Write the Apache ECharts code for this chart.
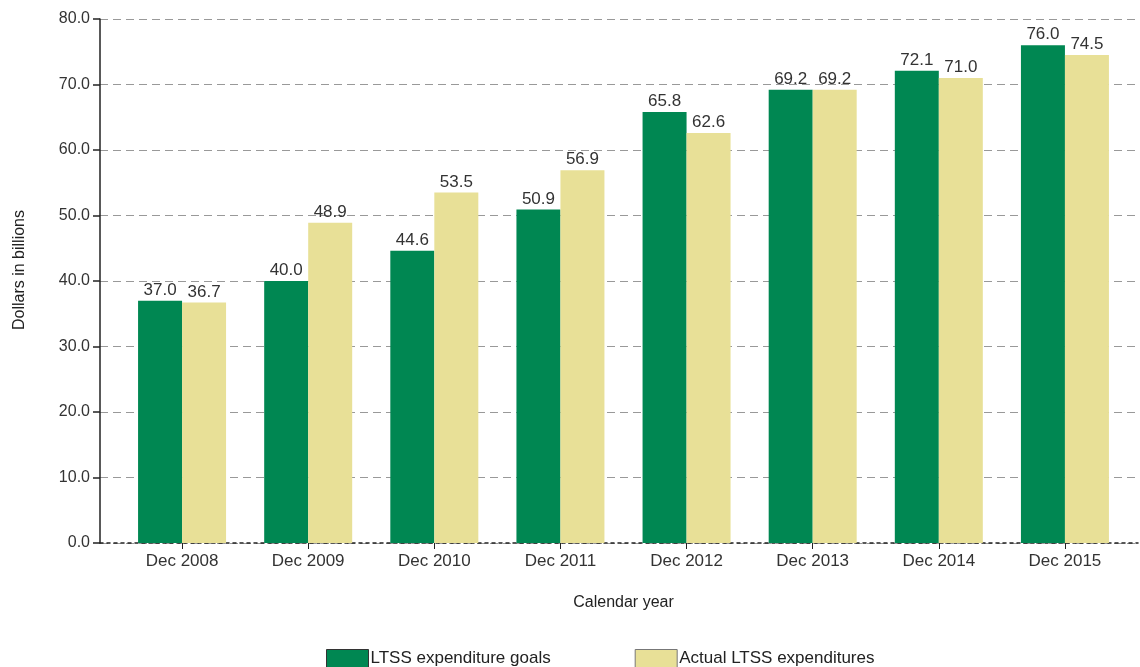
<!DOCTYPE html>
<html>
<head>
<meta charset="utf-8">
<script src="https://cdn.jsdelivr.net/npm/echarts@6/dist/echarts.min.js"></script>
<style>
html, body { margin: 0; padding: 0; background: #fff; }
#chart { width: 1140px; height: 667px; }
</style>
</head>
<body>
<div id="chart"></div>
<script>
var years = ['Dec 2008', 'Dec 2009', 'Dec 2010', 'Dec 2011', 'Dec 2012', 'Dec 2013', 'Dec 2014', 'Dec 2015'];
var goals = [37.0, 40.0, 44.6, 50.9, 65.8, 69.2, 72.1, 76.0];
var actual = [36.7, 48.9, 53.5, 56.9, 62.6, 69.2, 71.0, 74.5];

var myChart = echarts.init(document.getElementById('chart'));

var labelStyle = {
	show: true,
	position: 'top',
	distance: 2,
	color: '#333',
	fontSize: 17,
	formatter: function(p){ return p.value.toFixed(1); }
};

// grid 0 : bars ; grid 1 : frame (y axis, gridlines, dotted base line)
var option = {
	animation: false,
	textStyle: { fontFamily: 'Liberation Sans' },
	grid: [
		{ left: 119, right: 12, top: 19, bottom: 124 },
		{ left: 100, right: 2, top: 19, bottom: 124 }
	],
	legend: {
		bottom: -6,
		left: 321,
		itemGap: 84,
		itemWidth: 42,
		itemHeight: 18,
		icon: 'rect',
		textStyle: { color: '#222', fontSize: 17, padding: [0, 0, 0, -3] },
		data: [
			{ name: 'LTSS expenditure goals', itemStyle: { borderColor: '#333', borderWidth: 1 } },
			{ name: 'Actual LTSS expenditures', itemStyle: { borderColor: '#777', borderWidth: 1 } }
		]
	},
	xAxis: [
		{
			gridIndex: 0,
			type: 'category',
			data: years,
			name: 'Calendar year',
			nameLocation: 'middle',
			nameGap: 52,
			nameTextStyle: { color: '#222', fontSize: 16 },
			axisLine: { show: false },
			axisTick: { show: true, alignWithLabel: true, length: 6, lineStyle: { color: '#222' } },
			axisLabel: { color: '#333', fontSize: 17, margin: 10 }
		},
		{
			gridIndex: 1,
			type: 'category',
			data: years,
			axisLine: { show: true, lineStyle: { color: '#222', type: [3, 4], width: 1.5 } },
			axisTick: { show: false },
			axisLabel: { show: false }
		}
	],
	yAxis: [
		{
			gridIndex: 0,
			type: 'value',
			min: 0,
			max: 80,
			interval: 10,
			show: false
		},
		{
			gridIndex: 1,
			type: 'value',
			min: 0,
			max: 80,
			interval: 10,
			name: 'Dollars in billions',
			nameLocation: 'middle',
			nameGap: 72,
			nameTextStyle: { color: '#222', fontSize: 16, padding: [0, 0, 0, 22] },
			axisLine: { show: true, lineStyle: { color: '#222', width: 1.5 } },
			axisTick: { show: true, length: 7, lineStyle: { color: '#222', width: 1.5 } },
			axisLabel: {
				color: '#333',
				fontSize: 16,
				margin: 10,
				formatter: function(v){ return v.toFixed(1); }
			},
			splitLine: { show: true, lineStyle: { color: '#999', type: [8, 5], width: 1.2 } }
		}
	],
	series: [
		{
			name: 'LTSS expenditure goals',
			type: 'bar',
			xAxisIndex: 0,
			yAxisIndex: 0,
			data: goals,
			barWidth: 44,
			barGap: '0%',
			itemStyle: { color: '#008752' },
			label: labelStyle
		},
		{
			name: 'Actual LTSS expenditures',
			type: 'bar',
			xAxisIndex: 0,
			yAxisIndex: 0,
			data: actual,
			barWidth: 44,
			barGap: '0%',
			itemStyle: { color: '#e8e097' },
			label: labelStyle
		}
	]
};

myChart.setOption(option);
</script>
</body>
</html>
